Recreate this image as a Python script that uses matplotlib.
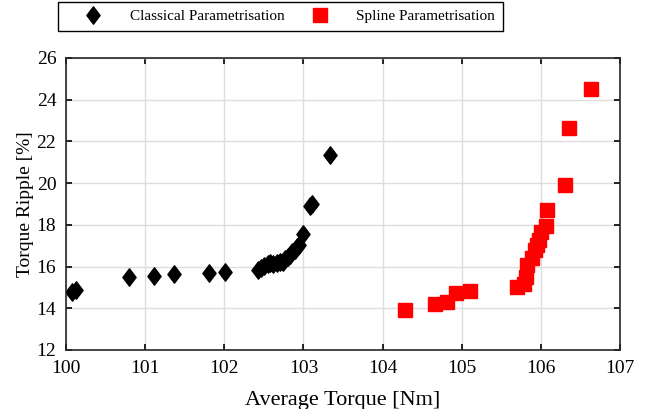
import matplotlib.pyplot as plt
from matplotlib.path import Path
import numpy as np

plt.rcParams['font.family'] = ['Liberation Serif', 'DejaVu Serif']

# classical parametrisation: average torque [Nm], torque ripple [%]
classic_torque = [100.07, 100.13, 100.79, 101.11, 101.37, 101.81, 102.01,
                  102.42, 102.46, 102.50, 102.55, 102.58, 102.62, 102.66,
                  102.70, 102.74, 102.77, 102.80, 102.83, 102.86, 102.89,
                  102.92, 102.95, 102.99, 103.08, 103.11, 103.34]
classic_ripple = [14.80, 14.88, 15.52, 15.55, 15.64, 15.71, 15.76,
                  15.85, 15.95, 16.02, 16.10, 16.15, 16.12, 16.18,
                  16.20, 16.24, 16.35, 16.45, 16.55, 16.68, 16.80,
                  16.92, 17.05, 17.55, 18.90, 19.00, 21.33]

# spline parametrisation
spline_torque = [104.28, 104.66, 104.81, 104.93, 105.11, 105.70, 105.79,
                 105.81, 105.83, 105.89, 105.92, 105.95, 105.98, 106.00,
                 106.07, 106.08, 106.30, 106.36, 106.64]
spline_ripple = [13.90, 14.22, 14.29, 14.72, 14.83, 15.00, 15.17,
                 15.52, 16.08, 16.40, 16.80, 17.04, 17.28, 17.67,
                 17.93, 18.70, 19.90, 22.63, 24.50]

xticks = np.arange(100, 108, 1)
yticks = np.arange(12, 27, 2)

# matlab-like diamond, a bit taller than wide
diamond = Path([(0, 1), (0.76, 0), (0, -1), (-0.76, 0), (0, 1)],
               [Path.MOVETO, Path.LINETO, Path.LINETO, Path.LINETO, Path.CLOSEPOLY])

fig = plt.figure(figsize=(6.49, 4.09), dpi=100)
ax = fig.add_axes([0.1017, 0.1443, 0.8536, 0.7140])

ax.plot(classic_torque, classic_ripple, marker=diamond, color='black',
        markersize=12.5, label='Classical Parametrisation', linestyle='none')
ax.plot(spline_torque, spline_ripple, 's', color='red', markersize=9.5,
        label='Spline Parametrisation', linestyle='none')

ax.set_xlim(100, 107)
ax.set_ylim(12, 26)
ax.set_xticks(xticks)
ax.set_yticks(yticks)
ax.grid(True, color='#dddddd', linewidth=1)
ax.set_axisbelow(True)
ax.tick_params(direction='in', top=True, right=True, labelsize=14, length=4,
               width=1.2)
ax.tick_params(axis='x', pad=7)
ax.tick_params(axis='y', pad=7)
for s in ax.spines.values():
    s.set_linewidth(1.2)
    s.set_color('#262626')

ax.set_xlabel('Average Torque [Nm]', fontsize=16, labelpad=10)
ax.set_ylabel('Torque Ripple [%]', fontsize=14, labelpad=2)

leg = fig.legend(loc='upper left', ncol=2,
                 bbox_to_anchor=(58 / 649, 1 - 2 / 409),
                 fontsize=11, fancybox=False, edgecolor='black',
                 framealpha=1, handletextpad=0.6, borderaxespad=0,
                 handlelength=3.6, columnspacing=0.5, borderpad=0.5)
leg.get_frame().set_linewidth(1.0)

fig.savefig('out.png', dpi=100)
